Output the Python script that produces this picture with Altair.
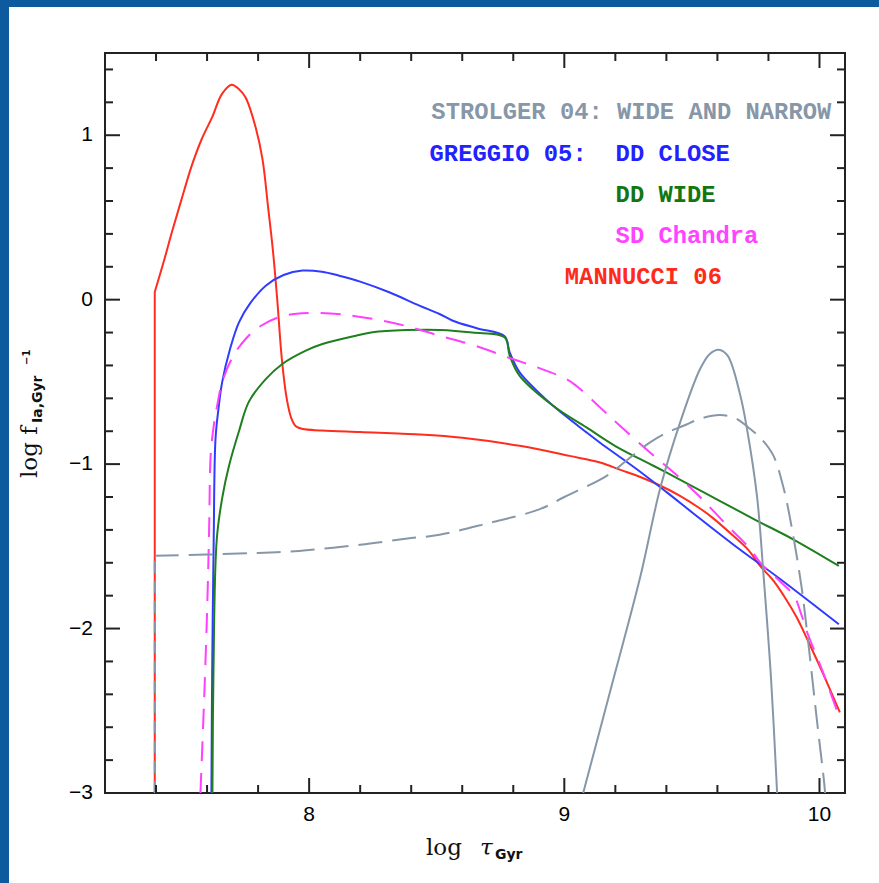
import altair as alt
import pandas as pd

W, H = 740, 740
X_DOMAIN = [7.2, 10.1]
Y_DOMAIN = [-3, 1.5]

# ---------------- data ----------------
red_x = [7.395, 7.395, 7.43, 7.462, 7.50, 7.54, 7.58, 7.62, 7.658, 7.696,
         7.725, 7.751, 7.79, 7.817, 7.84, 7.858, 7.875, 7.893, 7.912, 7.93,
         7.948, 7.975, 8.05, 8.2, 8.43, 8.6, 8.825, 9.02, 9.14, 9.22,
         9.30, 9.375, 9.45, 9.532, 9.584, 9.662, 9.72, 9.768, 9.82, 9.86,
         9.91, 9.952, 10.01, 10.08]
red_y = [-3, 0.047, 0.23, 0.41, 0.61, 0.815, 0.98, 1.11, 1.25, 1.307,
         1.28, 1.23, 1.05, 0.856, 0.55, 0.30, 0.0, -0.36, -0.60, -0.72,
         -0.77, -0.787, -0.795, -0.805, -0.82, -0.84, -0.889, -0.95, -0.99, -1.035,
         -1.08, -1.13, -1.19, -1.27, -1.33, -1.436, -1.52, -1.62, -1.71, -1.80,
         -1.93, -2.065, -2.26, -2.51]

blue_x = [7.617, 7.620, 7.626, 7.633, 7.645, 7.659, 7.69, 7.725, 7.77, 7.83,
          7.90, 7.974, 8.05, 8.118, 8.2, 8.314, 8.432, 8.511, 8.563, 8.66,
          8.766, 8.786, 8.825, 8.89, 8.956, 9.087, 9.14, 9.283, 9.402, 9.506,
          9.663, 9.847, 10.076]
blue_y = [-3, -2.27, -1.457, -0.848, -0.66, -0.503, -0.30, -0.138, -0.02, 0.085,
          0.15, 0.177, 0.17, 0.146, 0.11, 0.045, -0.036, -0.087, -0.128, -0.175,
          -0.223, -0.32, -0.442, -0.55, -0.645, -0.807, -0.87, -1.03, -1.172, -1.30,
          -1.49, -1.70, -1.974]

green_x = [7.621, 7.625, 7.638, 7.66, 7.686, 7.725, 7.764, 7.83, 7.895, 7.987,
           8.052, 8.183, 8.249, 8.38, 8.511, 8.64, 8.766, 8.786, 8.825, 8.956,
           9.087, 9.2, 9.349, 9.46, 9.605, 9.75, 9.9, 10.076]
green_y = [-3, -2.27, -1.457, -1.2, -1.01, -0.80, -0.62, -0.483, -0.391, -0.31,
           -0.27, -0.219, -0.198, -0.185, -0.184, -0.20, -0.229, -0.34, -0.463, -0.645,
           -0.777, -0.89, -1.01, -1.10, -1.22, -1.34, -1.46, -1.619]

mag_x = [7.574, 7.588, 7.60, 7.608, 7.614, 7.625, 7.64, 7.659, 7.70, 7.751,
         7.81, 7.88, 7.95, 8.026, 8.13, 8.249, 8.38, 8.511, 8.65, 8.786,
         8.90, 9.009, 9.048, 9.14, 9.218, 9.336, 9.45, 9.532, 9.63, 9.729,
         9.768, 9.85, 9.9, 9.93, 9.952, 10.01, 10.076]
mag_y = [-3, -2.45, -1.9, -1.4, -0.95, -0.78, -0.64, -0.503, -0.35, -0.239,
         -0.16, -0.107, -0.085, -0.081, -0.09, -0.117, -0.16, -0.219, -0.28, -0.355,
         -0.415, -0.483, -0.525, -0.655, -0.767, -0.93, -1.08, -1.20, -1.36, -1.517,
         -1.60, -1.72, -1.80, -1.92, -2.024, -2.25, -2.532]

narrow_x = [9.074, 9.18, 9.297, 9.375, 9.454, 9.532, 9.57, 9.605, 9.64, 9.69,
            9.716, 9.755, 9.781, 9.81, 9.834]
narrow_y = [-3, -2.38, -1.69, -1.152, -0.746, -0.422, -0.33, -0.304, -0.34, -0.584,
            -0.787, -1.193, -1.68, -2.3, -3]

wide_x = [7.395, 7.395, 7.6, 7.8, 7.96, 8.2, 8.4, 8.511, 8.7, 8.904,
          9.0, 9.166, 9.25, 9.336, 9.40, 9.467, 9.54, 9.611, 9.67, 9.729,
          9.78, 9.82, 9.86, 9.893, 9.93, 9.952, 9.991, 10.017, 10.022]
wide_y = [-3, -1.558, -1.55, -1.54, -1.528, -1.49, -1.45, -1.43, -1.36, -1.274,
          -1.20, -1.071, -0.97, -0.868, -0.81, -0.767, -0.72, -0.702, -0.72, -0.787,
          -0.86, -0.95, -1.15, -1.40, -1.75, -2.03, -2.572, -2.917, -3]

x_major = [8, 9, 10]
x_major_labels = ["8", "9", "10"]
x_minor = [7.4, 7.6, 7.8, 8.2, 8.4, 8.6, 8.8, 9.2, 9.4, 9.6, 9.8]
y_major = [-3, -2, -1, 0, 1]
y_major_labels = ["\u22123", "\u22122", "\u22121", "0", "1"]
y_minor = [-2.8, -2.6, -2.4, -2.2, -1.8, -1.6, -1.4, -1.2, -0.8, -0.6, -0.4, -0.2,
           0.2, 0.4, 0.6, 0.8, 1.2, 1.4]

GRAY, BLUE, GREEN, MAGENTA, RED = "#8797a8", "#2f3cff", "#1f7f1f", "#ff40ff", "#ff2d1e"

legend_text = ["STROLGER 04: WIDE AND NARROW", "GREGGIO 05:", "DD CLOSE",
               "DD WIDE", "SD Chandra", "MANNUCCI 06"]
legend_x = [8.479, 8.472, 9.201, 9.201, 9.201, 9.002]
legend_y = [1.10, 0.844, 0.844, 0.595, 0.345, 0.096]
legend_color = [GRAY, "#2222ff", "#2222ff", "#117711", "#ff44ff", "#ff2a1a"]

# ---------------- chart ----------------
xs = alt.Scale(domain=X_DOMAIN, nice=False, zero=False)
ys = alt.Scale(domain=Y_DOMAIN, nice=False, zero=False)

one = pd.DataFrame({"a": [0]})


def curve(xv, yv, color, dash=None, interp="catmull-rom"):
    df = pd.DataFrame({"x": xv, "y": yv, "i": list(range(len(xv)))})
    kw = dict(color=color, strokeWidth=2, clip=True, interpolate=interp)
    if dash:
        kw["strokeDash"] = dash
    return alt.Chart(df).mark_line(**kw).encode(
        x=alt.X("x:Q", scale=xs, axis=None),
        y=alt.Y("y:Q", scale=ys, axis=None),
        order="i:Q",
    )


# blue border strips outside the white panel
border_left = alt.Chart(one).mark_rect(color="#0d5a9e").encode(
    x=alt.value(-105), x2=alt.value(-96), y=alt.value(-53), y2=alt.value(H + 90))
border_top = alt.Chart(one).mark_rect(color="#0d5a9e").encode(
    x=alt.value(-105), x2=alt.value(W + 34), y=alt.value(-53), y2=alt.value(-46))

curves = [
    curve(red_x[:2], red_y[:2], RED, interp="linear"),
    curve(red_x[1:], red_y[1:], RED),
    curve(blue_x, blue_y, BLUE),
    curve(green_x, green_y, GREEN),
    curve(mag_x, mag_y, MAGENTA, dash=[20, 12]),
    curve(narrow_x, narrow_y, GRAY),
    curve(wide_x[:2], wide_y[:2], GRAY, dash=[12, 8], interp="linear"),
    curve(wide_x[1:], wide_y[1:], GRAY, dash=[24, 10]),
]


def xticks(vals, length):
    df = pd.DataFrame({"v": vals})
    bottom = alt.Chart(df).mark_rule(color="#222", strokeWidth=2).encode(
        x=alt.X("v:Q", scale=xs, axis=None), y=alt.value(H), y2=alt.value(H - length))
    top = alt.Chart(df).mark_rule(color="#222", strokeWidth=2).encode(
        x=alt.X("v:Q", scale=xs, axis=None), y=alt.value(0), y2=alt.value(length))
    return [bottom, top]


def yticks(vals, length):
    df = pd.DataFrame({"v": vals})
    left = alt.Chart(df).mark_rule(color="#222", strokeWidth=2).encode(
        y=alt.Y("v:Q", scale=ys, axis=None), x=alt.value(0), x2=alt.value(length))
    right = alt.Chart(df).mark_rule(color="#222", strokeWidth=2).encode(
        y=alt.Y("v:Q", scale=ys, axis=None), x=alt.value(W), x2=alt.value(W - length))
    return [left, right]


ticks = xticks(x_major, 15) + xticks(x_minor, 8) + yticks(y_major, 15) + yticks(y_minor, 8)

# tick labels
xlab = alt.Chart(pd.DataFrame({"v": x_major, "t": x_major_labels})).mark_text(
    font="Liberation Sans", fontSize=21, color="#000", align="center", baseline="top").encode(
    x=alt.X("v:Q", scale=xs, axis=None), y=alt.value(H + 11), text="t:N")
ylab = alt.Chart(pd.DataFrame({"v": y_major, "t": y_major_labels})).mark_text(
    font="Liberation Sans", fontSize=21, color="#000", align="right", baseline="middle").encode(
    y=alt.Y("v:Q", scale=ys, axis=None), x=alt.value(-12), text="t:N")

legend_df = pd.DataFrame({"t": legend_text, "x": legend_x, "y": legend_y, "c": legend_color})
legend = alt.Chart(legend_df).mark_text(
    font="Liberation Mono", fontSize=23.8, fontWeight="bold", align="left",
    baseline="alphabetic").encode(
    x=alt.X("x:Q", scale=xs, axis=None), y=alt.Y("y:Q", scale=ys, axis=None),
    text="t:N", color=alt.Color("c:N", scale=None))


def label(txt, px, py, font, size, weight="normal", style="normal", angle=0):
    return alt.Chart(pd.DataFrame({"t": [txt]})).mark_text(
        font=font, fontSize=size, fontWeight=weight, fontStyle=style, angle=angle,
        align="left", baseline="alphabetic", color="#111").encode(
        text="t:N", x=alt.value(px), y=alt.value(py))


titles = [
    label("log", 321, 802, "DejaVu Serif", 23),
    label("τ", 375, 802, "DejaVu Serif", 23, style="italic"),
    label("Gyr", 390, 806, "DejaVu Sans", 14, weight="bold"),
    label("log f", -68, 425, "DejaVu Serif", 23, angle=270),
    label("Ia,Gyr", -63, 370, "DejaVu Sans", 14, weight="bold", angle=270),
    label("\u22121", -75, 312, "DejaVu Sans", 10, weight="bold", angle=270),
]

chart = alt.layer(
    border_left, border_top, *curves, *ticks, xlab, ylab, legend, *titles
).properties(
    width=W, height=H,
    autosize=alt.AutoSizeParams(type="none"),
    padding={"left": 105, "top": 53, "right": 34, "bottom": 90},
    background="white",
).configure_view(stroke="#222", strokeWidth=2)

chart.save("out.html", embed_options={"renderer": "svg", "actions": False})
